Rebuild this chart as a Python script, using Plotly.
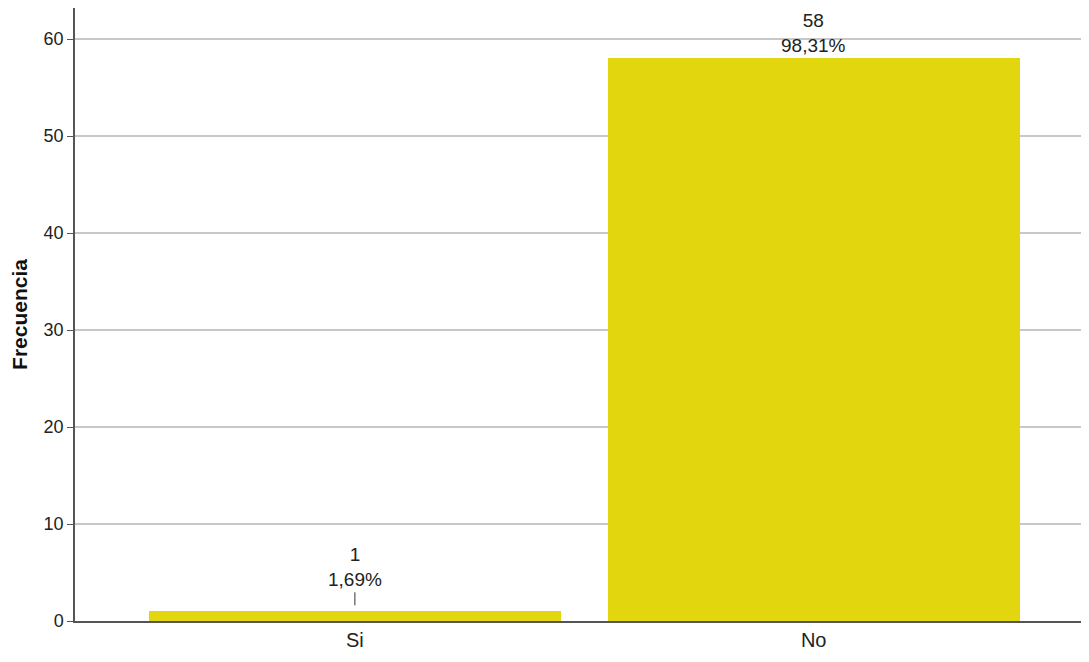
import plotly.graph_objects as go

categories = ["Si", "No"]
counts = [1, 58]
percents = ["1,69%", "98,31%"]
y_ticks = [0, 10, 20, 30, 40, 50, 60]

bar_color = "#E2D60F"
lab_font = "Liberation Sans, Arial, sans-serif"

fig = go.Figure()
fig.add_trace(go.Bar(
    x=categories, y=counts, width=0.898,
    marker=dict(color=bar_color, line=dict(width=0)),
    hoverinfo="skip",
))

for c, v, p in zip(categories, counts, percents):
    small = v < 5
    fig.add_annotation(
        x=c, y=v, xref="x", yref="y",
        text=f"{v}<br>{p}",
        showarrow=small, arrowhead=0, arrowwidth=1, arrowcolor="#333",
        ax=0, ay=-19 if small else 0, standoff=6 if small else 0,
        yanchor="bottom",
        font=dict(family=lab_font, size=19, color="#222"),
        align="center",
    )

fig.update_layout(
    width=1089, height=662,
    margin=dict(l=67, r=8, t=0, b=49),
    plot_bgcolor="white", paper_bgcolor="white",
    showlegend=False,
    bargap=0,
    xaxis=dict(
        range=[-0.61, 1.6],
        showline=True, linecolor="#555", linewidth=1.5,
        ticks="", showgrid=False,
        tickfont=dict(family=lab_font, size=20, color="#222"),
    ),
    yaxis=dict(
        range=[0, 63.2],
        tickvals=y_ticks,
        showline=True, linecolor="#555", linewidth=1.5,
        showgrid=True, gridcolor="#C8C8C8", gridwidth=1.5,
        ticks="outside", ticklen=6, tickcolor="#555",
        tickfont=dict(family=lab_font, size=18, color="#222"),
        zeroline=False,
        title=dict(text="<b>Frecuencia</b>", standoff=16,
                   font=dict(family="Liberation Sans, Arial, sans-serif", size=21, color="#111")),
    ),
)

fig.write_html("out.html")
